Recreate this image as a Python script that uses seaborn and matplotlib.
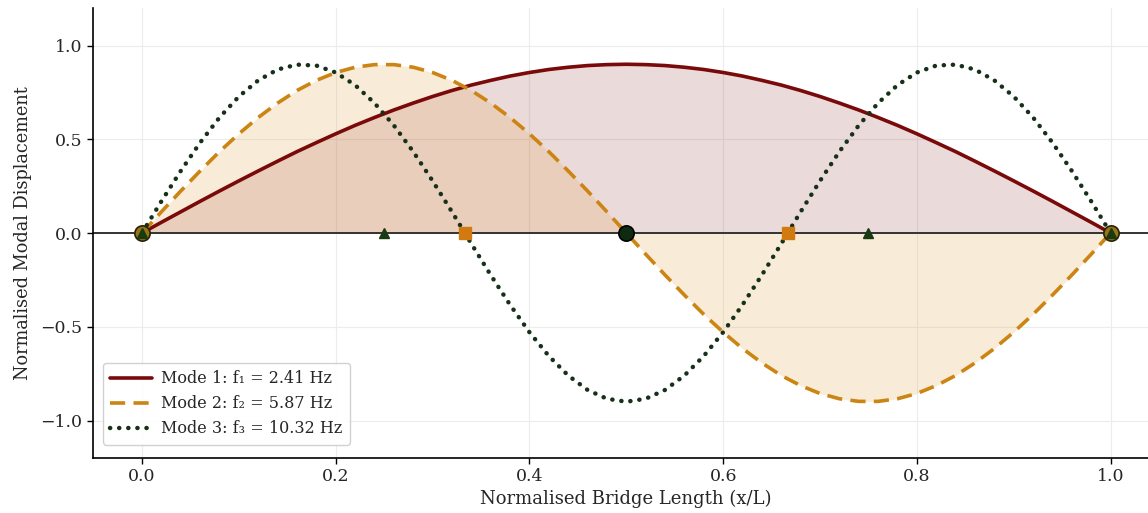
import numpy as np
import pandas as pd
import matplotlib
matplotlib.use("Agg")
import matplotlib.pyplot as plt
import seaborn as sns

# ---- data ----
x_pos = [round(0.02 * k, 2) for k in range(51)]
mode1 = [0.000, 0.057, 0.113, 0.169, 0.224, 0.278, 0.331, 0.383, 0.434, 0.482,
         0.529, 0.574, 0.616, 0.656, 0.693, 0.728, 0.760, 0.789, 0.814, 0.837,
         0.856, 0.872, 0.884, 0.893, 0.898, 0.900, 0.898, 0.893, 0.884, 0.872,
         0.856, 0.837, 0.814, 0.789, 0.760, 0.728, 0.693, 0.656, 0.616, 0.574,
         0.529, 0.482, 0.434, 0.383, 0.331, 0.278, 0.224, 0.169, 0.113, 0.057, 0.000]
mode2 = [0.000, 0.113, 0.224, 0.331, 0.434, 0.529, 0.616, 0.693, 0.760, 0.814,
         0.856, 0.884, 0.898, 0.898, 0.884, 0.856, 0.814, 0.760, 0.693, 0.616,
         0.529, 0.434, 0.331, 0.224, 0.113, 0.000, -0.113, -0.224, -0.331, -0.434,
         -0.529, -0.616, -0.693, -0.760, -0.814, -0.856, -0.884, -0.898, -0.898, -0.884,
         -0.856, -0.814, -0.760, -0.693, -0.616, -0.529, -0.434, -0.331, -0.224, -0.113, 0.000]
mode3 = [0.000, 0.169, 0.331, 0.482, 0.616, 0.728, 0.814, 0.872, 0.898, 0.893,
         0.856, 0.789, 0.693, 0.574, 0.434, 0.278, 0.113, -0.057, -0.224, -0.383,
         -0.529, -0.656, -0.760, -0.837, -0.884, -0.900, -0.884, -0.837, -0.760, -0.656,
         -0.529, -0.383, -0.224, -0.057, 0.113, 0.278, 0.434, 0.574, 0.693, 0.789,
         0.856, 0.893, 0.898, 0.872, 0.814, 0.728, 0.616, 0.482, 0.331, 0.169, 0.000]
mode_labels = ["Mode 1: f\u2081 = 2.41 Hz",
               "Mode 2: f\u2082 = 5.87 Hz",
               "Mode 3: f\u2083 = 10.32 Hz"]

end_nodes = [0.0, 1.0]
square_nodes = [1/3, 2/3]
triangle_nodes = [0.0, 0.25, 0.75, 1.0]
centre_node = [0.5]

x_ticks = [0.0, 0.2, 0.4, 0.6, 0.8, 1.0]
y_ticks = [-1.0, -0.5, 0.0, 0.5, 1.0]

# ---- style ----
sns.set_style("whitegrid", {"grid.color": "#ebebeb", "axes.edgecolor": "black"})
plt.rcParams["font.family"] = ["DejaVu Serif", "DejaVu Sans"]

c1 = "#7a0a0a"
c2 = "#cc8412"
c3 = "#16301a"

fig = plt.figure(figsize=(11.48, 5.13), dpi=100)
ax = fig.add_axes([93/1148, 55/513, 1066/1148, 450/513])

df = pd.DataFrame({"x": x_pos, "m1": mode1, "m2": mode2, "m3": mode3})

ax.fill_between(df["x"], 0, df["m1"], color=c1, alpha=0.15, lw=0, zorder=1)
ax.fill_between(df["x"], 0, df["m2"], color="#e0a040", alpha=0.2, lw=0, zorder=1)

ax.axhline(0, color="#333333", lw=1.4, zorder=2)

sns.lineplot(data=df, x="x", y="m1", ax=ax, color=c1, lw=2.6, label=mode_labels[0], zorder=3)
sns.lineplot(data=df, x="x", y="m2", ax=ax, color=c2, lw=2.6, label=mode_labels[1], zorder=3)
sns.lineplot(data=df, x="x", y="m3", ax=ax, color=c3, lw=3.2, label=mode_labels[2], zorder=3)
lines = ax.get_lines()
lines[-2].set_dashes((4.2, 2.3))
lines[-1].set_linestyle((0, (0.05, 2.0)))
lines[-1].set_dash_capstyle("round")

# node markers
ax.plot(end_nodes, [0] * len(end_nodes), "o", ms=11, mfc="#957515", mec="#2a2005", mew=1.2, zorder=5)
ax.plot(square_nodes, [0] * len(square_nodes), "s", ms=9, mfc="#d07a10", mec="#d07a10", zorder=5)
ax.plot(triangle_nodes, [0] * len(triangle_nodes), "^", ms=7, mfc="#1a3a12", mec="#1a3a12", zorder=6)
ax.plot(centre_node, [0], "o", ms=11, mfc="#0f2a12", mec="black", mew=1.2, zorder=6)

ax.set_xlim(-0.0506, 1.05)
ax.set_ylim(-1.2, 1.2)
ax.set_xticks(x_ticks)
ax.set_yticks(y_ticks)
ax.set_xticklabels([f"{t:.1f}" for t in x_ticks])
ax.set_yticklabels([f"{t:.1f}".replace("-", "\u2212") for t in y_ticks])
ax.tick_params(axis="both", which="both", direction="out", length=4, width=1,
               color="black", labelsize=12.5, bottom=True, left=True)
ax.set_xlabel("Normalised Bridge Length (x/L)", fontsize=13, labelpad=3)
ax.set_ylabel("Normalised Modal Displacement", fontsize=12.8, labelpad=6)

for s in ["top", "right"]:
    ax.spines[s].set_visible(False)
for s in ["left", "bottom"]:
    ax.spines[s].set_color("black")
    ax.spines[s].set_linewidth(1.2)

ax.grid(True, color="#ececec", lw=0.8)

leg = ax.legend(loc="lower left", bbox_to_anchor=(0.002, 0.012), fontsize=11.5,
                frameon=True, fancybox=True, framealpha=0.9, edgecolor="#cccccc",
                handlelength=2.6, handletextpad=0.6, borderpad=0.45, labelspacing=0.5)

fig.savefig("out.png", dpi=100)
